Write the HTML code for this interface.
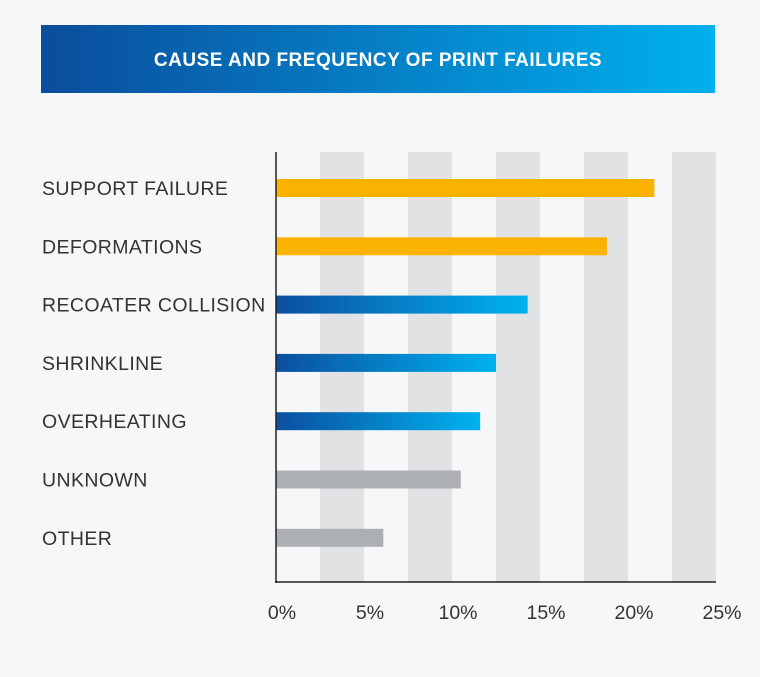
<!DOCTYPE html>
<html><head><meta charset="utf-8">
<style>
html,body{margin:0;padding:0;background:#f6f7f9;}
body{width:760px;height:672px;overflow:hidden;font-family:"Liberation Sans",sans-serif;}
</style></head>
<body>
<svg width="760" height="672" xmlns="http://www.w3.org/2000/svg">
<defs>
<linearGradient id="hdr" x1="0" x2="1" y1="0" y2="0"><stop offset="0" stop-color="#0a4d9c"/><stop offset="1" stop-color="#00b0ef"/></linearGradient>
<linearGradient id="blue" x1="0" x2="1" y1="0" y2="0"><stop offset="0" stop-color="#0b4fa0"/><stop offset="1" stop-color="#00b2f0"/></linearGradient>
</defs>
<rect x="41" y="25" width="674" height="68" fill="url(#hdr)"/>
<text x="378" y="66" text-anchor="middle" fill="#fff" font-size="19" font-weight="bold" letter-spacing="0.5">CAUSE AND FREQUENCY OF PRINT FAILURES</text>
<g id="bands"></g>
<g id="bars"></g>
<g id="labels"></g>
<g id="ticks"></g>
<line x1="276" y1="152" x2="276" y2="583" stroke="#222" stroke-width="1.5"/>
<line x1="275" y1="582" x2="716" y2="582" stroke="#222" stroke-width="1.5"/>
</svg>
<script>
const categories=["SUPPORT FAILURE","DEFORMATIONS","RECOATER COLLISION","SHRINKLINE","OVERHEATING","UNKNOWN","OTHER"];
const values=[21.5,18.8,14.3,12.5,11.6,10.5,6.1];
const groups=["yellow","yellow","blue","blue","blue","gray","gray"];
const tickValues=[0,5,10,15,20,25];
const tickLabels=["0%","5%","10%","15%","20%","25%"];
const NS="http://www.w3.org/2000/svg";
const x0=276,pxPer=17.6;
function xs(v){return x0+v*pxPer;}
function ys(i){return 188+i*58.3;}
const fills={yellow:"#fbb200",blue:"url(#blue)",gray:"#adb0b2"};
function mk(t,a){const e=document.createElementNS(NS,t);for(const k in a)e.setAttribute(k,a[k]);return e;}
const bands=document.getElementById('bands');
for(let i=0;i<5;i++){
  const r=mk('rect',{x:xs(2.5+5*i),y:152,width:xs(5)-xs(2.5),height:430,fill:"#e0e2e4"});
  
  
  bands.appendChild(r);
}
const bars=document.getElementById('bars'),labels=document.getElementById('labels');
categories.forEach((c,i)=>{
  const r=mk('rect',{x:x0,y:ys(i)-9,width:xs(values[i])-x0,height:18,fill:fills[groups[i]]});
  
  
  bars.appendChild(r);
  const t=mk('text',{x:42,y:ys(i)+7,"font-size":19.5,fill:"#333","letter-spacing":0.4});
  t.textContent=c;
  
  
  labels.appendChild(t);
});
const ticks=document.getElementById('ticks');
tickValues.forEach((v,i)=>{
  const t=mk('text',{x:xs(v)+6,y:619,"font-size":19.5,fill:"#333","text-anchor":"middle"});
  t.textContent=tickLabels[i];
  
  
  ticks.appendChild(t);
});
</script>
</body></html>
